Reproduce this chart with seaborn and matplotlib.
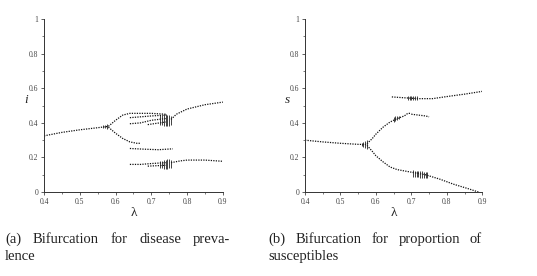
import matplotlib
matplotlib.use("Agg")
import matplotlib.pyplot as plt
import seaborn as sns
from matplotlib.ticker import MultipleLocator

# ---- panel (a): disease prevalence i vs lambda ----
a_main_lam = [0.40, 0.45, 0.50, 0.55, 0.58]
a_main_i = [0.325, 0.345, 0.360, 0.372, 0.380]
a_up_lam = [0.58, 0.60, 0.62, 0.64, 0.66, 0.70, 0.74]
a_up_i = [0.380, 0.415, 0.445, 0.455, 0.455, 0.455, 0.450]
a_sub1_lam = [0.64, 0.67, 0.70, 0.74]
a_sub1_i = [0.430, 0.435, 0.440, 0.445]
a_sub2_lam = [0.64, 0.67, 0.70, 0.74]
a_sub2_i = [0.395, 0.400, 0.415, 0.425]
a_sub3_lam = [0.69, 0.74]
a_sub3_i = [0.390, 0.405]
a_after_lam = [0.755, 0.77, 0.80, 0.85, 0.90]
a_after_i = [0.420, 0.450, 0.480, 0.505, 0.520]
a_down_lam = [0.58, 0.60, 0.62, 0.64, 0.66, 0.67]
a_down_i = [0.375, 0.340, 0.310, 0.290, 0.282, 0.282]
a_flat_lam = [0.64, 0.68, 0.72, 0.76]
a_flat_i = [0.252, 0.248, 0.245, 0.250]
a_low_lam = [0.64, 0.67, 0.70, 0.74]
a_low_i = [0.160, 0.160, 0.165, 0.170]
a_low2_lam = [0.69, 0.74]
a_low2_i = [0.150, 0.155]
a_lowafter_lam = [0.755, 0.78, 0.80, 0.85, 0.90]
a_lowafter_i = [0.170, 0.180, 0.185, 0.185, 0.178]
a_band_lam = [0.565, 0.57, 0.575, 0.725, 0.73, 0.735, 0.74, 0.745, 0.75, 0.755,
              0.725, 0.73, 0.735, 0.74, 0.745, 0.75, 0.755]
a_band_lo = [0.372, 0.368, 0.366, 0.385, 0.385, 0.382, 0.380, 0.382, 0.384, 0.390,
             0.140, 0.138, 0.136, 0.135, 0.136, 0.138, 0.140]
a_band_hi = [0.386, 0.390, 0.392, 0.445, 0.448, 0.450, 0.450, 0.448, 0.445, 0.440,
             0.180, 0.182, 0.185, 0.188, 0.190, 0.190, 0.185]

# ---- panel (b): susceptibles s vs lambda ----
b_main_lam = [0.40, 0.45, 0.50, 0.55, 0.575]
b_main_s = [0.300, 0.290, 0.282, 0.276, 0.275]
b_up_lam = [0.575, 0.59, 0.60, 0.62, 0.64, 0.66, 0.68, 0.69, 0.70]
b_up_s = [0.280, 0.310, 0.335, 0.375, 0.405, 0.425, 0.440, 0.455, 0.455]
b_tail_lam = [0.70, 0.72, 0.74, 0.75]
b_tail_s = [0.450, 0.445, 0.440, 0.435]
b_down_lam = [0.575, 0.59, 0.60, 0.62, 0.64, 0.66, 0.70, 0.74, 0.78, 0.82, 0.86, 0.89]
b_down_s = [0.270, 0.235, 0.210, 0.175, 0.145, 0.130, 0.115, 0.100, 0.075, 0.045, 0.020, 0.0]
b_top_lam = [0.645, 0.68, 0.72, 0.76, 0.80, 0.85, 0.90]
b_top_s = [0.550, 0.545, 0.540, 0.540, 0.552, 0.566, 0.582]
b_band_lam = [0.56, 0.565, 0.57, 0.575, 0.705, 0.71, 0.715, 0.72, 0.725, 0.73, 0.735, 0.74, 0.745,
              0.65, 0.655, 0.66, 0.665, 0.69, 0.695, 0.70, 0.705, 0.71, 0.715]
b_band_lo = [0.268, 0.262, 0.256, 0.250, 0.090, 0.088, 0.086, 0.085, 0.084, 0.083, 0.082, 0.082, 0.082,
             0.405, 0.410, 0.415, 0.420, 0.530, 0.530, 0.530, 0.530, 0.530, 0.530]
b_band_hi = [0.282, 0.288, 0.294, 0.300, 0.125, 0.124, 0.122, 0.122, 0.121, 0.120, 0.118, 0.118, 0.117,
             0.435, 0.438, 0.440, 0.442, 0.555, 0.555, 0.555, 0.555, 0.555, 0.555]

panel_a = [(a_main_lam, a_main_i), (a_up_lam, a_up_i), (a_sub1_lam, a_sub1_i),
           (a_sub2_lam, a_sub2_i), (a_sub3_lam, a_sub3_i), (a_after_lam, a_after_i),
           (a_down_lam, a_down_i), (a_flat_lam, a_flat_i), (a_low_lam, a_low_i),
           (a_low2_lam, a_low2_i), (a_lowafter_lam, a_lowafter_i)]
panel_b = [(b_main_lam, b_main_s), (b_up_lam, b_up_s), (b_tail_lam, b_tail_s),
           (b_down_lam, b_down_s), (b_top_lam, b_top_s)]

caption_a = ["(a) Bifurcation for disease preva-", "lence"]
caption_b = ["(b) Bifurcation for proportion of", "susceptibles"]

sns.set_style("ticks")
plt.rcParams['font.family'] = ['Liberation Serif', 'DejaVu Serif']

fig = plt.figure(figsize=(5.37, 2.76), dpi=100)
ax1 = fig.add_axes([0.082, 0.304, 0.333, 0.627])
ax2 = fig.add_axes([0.568, 0.304, 0.330, 0.627])


def draw_panel(ax, branches, band_lam, band_lo, band_hi, ylab):
    for lam, val in branches:
        sns.lineplot(x=lam, y=val, sort=False, ax=ax, color='#111111',
                     linestyle=(0, (1, 1)), linewidth=0.9)
    ax.vlines(band_lam, band_lo, band_hi, color='#222222', linewidth=0.6)
    ax.set_xlim(0.4, 0.9)
    ax.set_ylim(0, 1)
    ax.xaxis.set_major_locator(MultipleLocator(0.1))
    ax.xaxis.set_minor_locator(MultipleLocator(0.05))
    ax.yaxis.set_major_locator(MultipleLocator(0.2))
    ax.yaxis.set_minor_locator(MultipleLocator(0.1))
    ax.xaxis.set_major_formatter(lambda v, p: f"{v:g}")
    ax.yaxis.set_major_formatter(lambda v, p: f"{v:g}")
    ax.tick_params(which='major', length=2.5, width=0.6, labelsize=5.5, pad=1.5,
                   colors='#444444')
    ax.tick_params(which='minor', length=1.5, width=0.5, colors='#444444')
    for sp in ['left', 'bottom']:
        ax.spines[sp].set_linewidth(0.7)
        ax.spines[sp].set_color('#333333')
    sns.despine(ax=ax)
    ax.set_xlabel('λ', fontsize=9.5, labelpad=1)
    ax.set_ylabel(ylab, fontsize=9.5, style='italic', rotation=0, labelpad=2)


draw_panel(ax1, panel_a, a_band_lam, a_band_lo, a_band_hi, 'i')
draw_panel(ax2, panel_b, b_band_lam, b_band_lo, b_band_hi, 's')


def justified(text, x0, x1, y, size=10.5):
    # spread the words of a caption line between x0 and x1 (figure pixels)
    renderer = fig.canvas.get_renderer()
    words = text.split()
    items = [fig.text(0, y, w, fontsize=size, color='#222222', transform=None) for w in words]
    widths = [t.get_window_extent(renderer).width for t in items]
    gap = (x1 - x0 - sum(widths)) / max(len(words) - 1, 1)
    x = x0
    for t, w in zip(items, widths):
        t.set_x(x)
        x += w + gap


justified(caption_a[0], 5, 230, 276 - 243)
fig.text(5, 276 - 260, caption_a[1], fontsize=10.5, color='#222222', transform=None)
justified(caption_b[0], 268, 482, 276 - 243)
fig.text(268, 276 - 260, caption_b[1], fontsize=10.5, color='#222222', transform=None)

fig.savefig("out.png", dpi=100)
